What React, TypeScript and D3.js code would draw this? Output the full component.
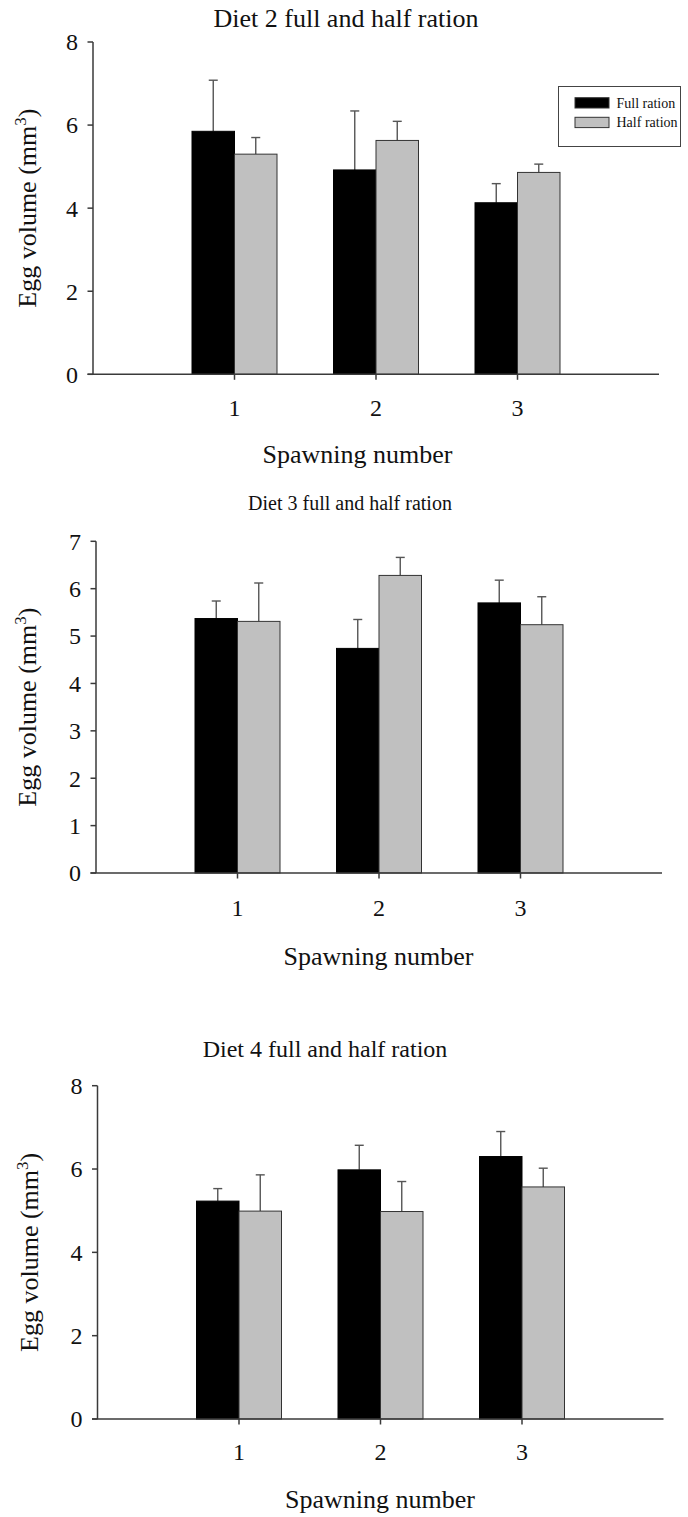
import React from "react";
import * as d3 from "d3";

const spawning = ["1", "2", "3"];
const seriesNames = ["Full ration", "Half ration"];

const diet2Full = [5.85, 4.92, 4.13];
const diet2FullErr = [1.23, 1.42, 0.46];
const diet2Half = [5.3, 5.63, 4.86];
const diet2HalfErr = [0.4, 0.46, 0.2];

const diet3Full = [5.37, 4.74, 5.7];
const diet3FullErr = [0.37, 0.61, 0.48];
const diet3Half = [5.31, 6.28, 5.24];
const diet3HalfErr = [0.81, 0.38, 0.59];

const diet4Full = [5.23, 5.98, 6.3];
const diet4FullErr = [0.3, 0.59, 0.6];
const diet4Half = [4.99, 4.98, 5.57];
const diet4HalfErr = [0.87, 0.72, 0.45];

const yTicks1 = [0, 2, 4, 6, 8];
const yTicks2 = [0, 1, 2, 3, 4, 5, 6, 7];
const yTicks3 = [0, 2, 4, 6, 8];

const titles = [
  "Diet 2 full and half ration",
  "Diet 3 full and half ration",
  "Diet 4 full and half ration",
];
const xLabel = "Spawning number";

const FONT = "'Liberation Serif', 'Times New Roman', serif";
const AXIS = "#3a3a3a";
const ERR = "#555";
const GRAY = "#c0c0c0";
const TICK_FS = 24;

type PanelProps = {
  full: number[];
  fullErr: number[];
  half: number[];
  halfErr: number[];
  yMax: number;
  yTicks: number[];
  axisX: number;
  yTop: number;
  yBottom: number;
  title: string;
  titleX: number;
  titleY: number;
  titleSize: number;
  tickLabelY: number;
  xLabelX: number;
  xLabelY: number;
  yLabelX: number;
};

function Panel(p: PanelProps) {
  const spacing = 141.5;
  const x = d3.scaleLinear().domain([0, 4]).range([p.axisX, p.axisX + 4 * spacing]);
  const y = d3.scaleLinear().domain([0, p.yMax]).range([p.yBottom, p.yTop]);
  const barW = 42.5;
  const cap = 4.5;
  const groups = spawning.map((s, i) => ({
    s,
    pos: i + 1,
    vals: [
      { v: p.full[i], e: p.fullErr[i], k: 0 },
      { v: p.half[i], e: p.halfErr[i], k: 1 },
    ],
  }));
  const yMid = (p.yTop + p.yBottom) / 2;
  return (
    <g>
      <text x={p.titleX} y={p.titleY} textAnchor="middle" fontSize={p.titleSize} fontFamily={FONT} fill="#111">
        {p.title}
      </text>
      {groups.map((g) =>
        g.vals.map((b) => {
          const x0 = b.k === 0 ? x(g.pos) - barW : x(g.pos);
          const cx = x0 + barW / 2;
          return (
            <g key={g.s + b.k}>
              <line x1={cx} x2={cx} y1={y(b.v)} y2={y(b.v + b.e)} stroke={ERR} strokeWidth={1.4} />
              <line x1={cx - cap} x2={cx + cap} y1={y(b.v + b.e)} y2={y(b.v + b.e)} stroke={ERR} strokeWidth={1.4} />
              <rect
                x={x0}
                y={y(b.v)}
                width={barW}
                height={y(0) - y(b.v)}
                fill={b.k === 0 ? "#000" : GRAY}
                stroke={b.k === 0 ? "#000" : "#333"}
                strokeWidth={1}
              />
            </g>
          );
        })
      )}
      <line x1={p.axisX} x2={p.axisX} y1={y(p.yMax)} y2={y(0)} stroke={AXIS} strokeWidth={1.5} />
      {p.yTicks.map((t) => (
        <g key={"y" + t}>
          <line x1={p.axisX - 5.5} x2={p.axisX} y1={y(t)} y2={y(t)} stroke={AXIS} strokeWidth={1.5} />
          <text x={p.axisX - 15} y={y(t)} dy="0.35em" textAnchor="end" fontSize={TICK_FS} fontFamily={FONT} fill="#111">
            {t}
          </text>
        </g>
      ))}
      <line x1={x(0) - 5.5} x2={x(4)} y1={y(0)} y2={y(0)} stroke={AXIS} strokeWidth={1.5} />
      {groups.map((g) => (
        <g key={"x" + g.s}>
          <line x1={x(g.pos)} x2={x(g.pos)} y1={y(0)} y2={y(0) + 5.5} stroke={AXIS} strokeWidth={1.5} />
          <text x={x(g.pos)} y={p.tickLabelY} textAnchor="middle" fontSize={TICK_FS} fontFamily={FONT} fill="#111">
            {g.s}
          </text>
        </g>
      ))}
      <text x={p.xLabelX} y={p.xLabelY} textAnchor="middle" fontSize={26} fontFamily={FONT} fill="#111">
        {xLabel}
      </text>
      <text
        transform={`translate(${p.yLabelX},${yMid}) rotate(-90)`}
        textAnchor="middle"
        fontSize={26}
        fontFamily={FONT}
        fill="#111"
      >
        Egg volume (mm
        <tspan fontSize={17} dy={-10}>3</tspan>
        <tspan dy={10}>)</tspan>
      </text>
    </g>
  );
}

export default function App() {
  return (
    <svg
      width={688}
      height={1517}
      style={{ position: "absolute", left: 0, top: 0, background: "#fff" }}
    >
      <rect x={0} y={0} width={688} height={1517} fill="#fff" />
      <Panel
        full={diet2Full}
        fullErr={diet2FullErr}
        half={diet2Half}
        halfErr={diet2HalfErr}
        yMax={8}
        yTicks={yTicks1}
        axisX={93}
        yTop={42}
        yBottom={374.3}
        title={titles[0]}
        titleX={346}
        titleY={27}
        titleSize={26}
        tickLabelY={416}
        xLabelX={357.5}
        xLabelY={463}
        yLabelX={36}
      />
      <Panel
        full={diet3Full}
        fullErr={diet3FullErr}
        half={diet3Half}
        halfErr={diet3HalfErr}
        yMax={7}
        yTicks={yTicks2}
        axisX={96}
        yTop={541.3}
        yBottom={873}
        title={titles[1]}
        titleX={350}
        titleY={510}
        titleSize={20}
        tickLabelY={916}
        xLabelX={378.5}
        xLabelY={965}
        yLabelX={36}
      />
      <Panel
        full={diet4Full}
        fullErr={diet4FullErr}
        half={diet4Half}
        halfErr={diet4HalfErr}
        yMax={8}
        yTicks={yTicks3}
        axisX={97.5}
        yTop={1085.7}
        yBottom={1419}
        title={titles[2]}
        titleX={325}
        titleY={1057}
        titleSize={24}
        tickLabelY={1460}
        xLabelX={380}
        xLabelY={1508}
        yLabelX={38}
      />
      <g>
        <rect x={558.5} y={86.5} width={122} height={60} fill="#fff" stroke="#444" strokeWidth={1} />
        {seriesNames.map((n, i) => (
          <g key={n}>
            <rect
              x={575}
              y={97.7 + i * 19.6}
              width={34}
              height={10.3}
              fill={i === 0 ? "#000" : GRAY}
              stroke="#333"
              strokeWidth={1}
            />
            <text x={616.5} y={107.5 + i * 19.6} fontSize={14} fontFamily={FONT} fill="#111">
              {n}
            </text>
          </g>
        ))}
      </g>
    </svg>
  );
}
